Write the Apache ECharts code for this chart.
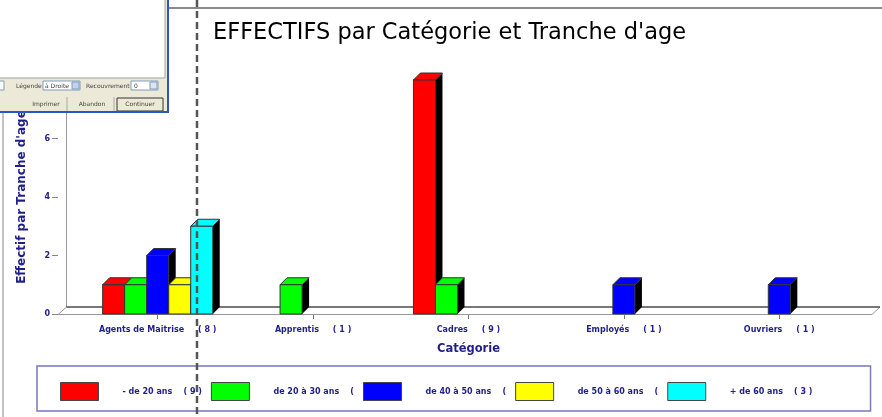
<!DOCTYPE html>
<html>
<head>
<meta charset="utf-8">
<script src="https://cdn.jsdelivr.net/npm/echarts@6/dist/echarts.min.js"></script>
<style>
html, body { margin: 0; padding: 0; background: #fff; }
#chart { width: 882px; height: 417px; }
</style>
</head>
<body>
<div id="chart"></div>
<script>
// data
const categories = ['Agents de Maitrise', 'Apprentis', 'Cadres', 'Employés', 'Ouvriers']
const categoryTotals = [8, 1, 9, 1, 1]
const ageBands = ['- de 20 ans', 'de 20 à 30 ans', 'de 40 à 50 ans', 'de 50 à 60 ans', '+ de 60 ans']
const ageLegendLabels = ['- de 20 ans    ( 9 )', 'de 20 à 30 ans    (', 'de 40 à 50 ans    (', 'de 50 à 60 ans    (', '+ de 60 ans    ( 3 )']
const ageColors = ['#ff0000', '#00ff00', '#0000ff', '#ffff00', '#00ffff']
const under20 = [1, 0, 8, 0, 0]
const from20to30 = [1, 1, 1, 0, 0]
const from40to50 = [2, 0, 0, 1, 1]
const from50to60 = [1, 0, 0, 0, 0]
const over60 = [3, 0, 0, 0, 0]
const yTicks = [0, 2, 4, 6, 8]

const seriesValues = [under20, from20to30, from40to50, from50to60, over60]

const NAVY = '#1f1f87'
const FONT = '"DejaVu Sans", sans-serif'
const DEPTH = 7
const BAR_RATIO = 22 / 155.25

// 3D box: black side, coloured top, coloured front
function makeRenderer(slot, color) {
  return function (params, api) {
    const v = api.value(1)
    if (!v) return null
    const base = api.coord([api.value(0), 0])
    const top = api.coord([api.value(0), v])
    const bw = api.size([1, 0])[0] * BAR_RATIO
    const x = base[0] + (slot - ageBands.length / 2) * bw
    const x2 = x + bw
    const yb = base[1]
    const yt = top[1]
    return {
      type: 'group',
      children: [
        {
          type: 'polygon',
          shape: { points: [[x2, yt], [x2 + DEPTH, yt - DEPTH], [x2 + DEPTH, yb - DEPTH], [x2, yb]] },
          style: { fill: '#000' }
        },
        {
          type: 'polygon',
          shape: { points: [[x, yt], [x + DEPTH, yt - DEPTH], [x2 + DEPTH, yt - DEPTH], [x2, yt]] },
          style: { fill: color, stroke: '#333', lineWidth: 1 }
        },
        {
          type: 'rect',
          shape: { x: x, y: yt, width: bw, height: yb - yt },
          style: { fill: color, stroke: '#333', lineWidth: 1 }
        }
      ]
    }
  }
}

function txt(x, y, text, align) {
  return {
    type: 'text', x: x, y: y, z: 201,
    style: { text: text, fill: '#444', font: '6px ' + FONT, align: align || 'left', verticalAlign: 'middle' }
  }
}

function box(x, y, w, h, fill, stroke) {
  return { type: 'rect', z: 201, shape: { x: x, y: y, width: w, height: h }, style: { fill: fill, stroke: stroke, lineWidth: 1 } }
}

// the print dialog that sits over the top-left corner
const dialog = [
  { type: 'rect', z: 200, shape: { x: 0, y: 0, width: 169, height: 113 }, style: { fill: '#ece9d8' } },
  box(-1, -1, 166, 79, '#fff', '#a0a0a0'),
  { type: 'line', z: 202, shape: { x1: 168, y1: 0, x2: 168, y2: 113 }, style: { stroke: '#2a55c8', lineWidth: 2 } },
  { type: 'line', z: 202, shape: { x1: 0, y1: 112, x2: 169, y2: 112 }, style: { stroke: '#2a55c8', lineWidth: 2 } },
  box(-1, 81, 5, 9, '#fff', '#7f9db9'),
  txt(16, 86, 'Légende'),
  box(43, 81, 37, 9, '#fff', '#7f9db9'),
  txt(45, 86, 'à Droite'),
  box(72, 82, 7, 7, '#c1d2ee', '#7f9db9'),
  txt(86, 86, 'Recouvrement'),
  box(131, 81, 27, 9, '#fff', '#7f9db9'),
  txt(134, 86, '0'),
  box(150, 82, 7, 7, '#dde4f0', '#7f9db9'),
  { type: 'line', z: 201, shape: { x1: 67, y1: 97, x2: 67, y2: 111 }, style: { stroke: '#aaa' } },
  { type: 'line', z: 201, shape: { x1: 114, y1: 97, x2: 114, y2: 111 }, style: { stroke: '#aaa' } },
  box(117, 98, 46, 13, '#ece9d8', '#333'),
  txt(46, 104, 'Imprimer', 'center'),
  txt(92, 104, 'Abandon', 'center'),
  txt(140, 104, 'Continuer', 'center')
]

// frame, back wall and floor of the 3D plot
const frame = [
  { type: 'line', z: 1, shape: { x1: 67, y1: 8, x2: 882, y2: 8 }, style: { stroke: '#8a8a8a', lineWidth: 2 } },
  { type: 'line', z: 1, shape: { x1: 66.5, y1: 8, x2: 66.5, y2: 307 }, style: { stroke: '#999', lineWidth: 1 } },
  { type: 'polygon', z: 1, shape: { points: [[58, 314.5], [66.5, 307], [880, 307], [872, 314.5]] }, style: { fill: '#fff', stroke: '#999', lineWidth: 1 } },
  { type: 'line', z: 1, shape: { x1: 66.5, y1: 307, x2: 880, y2: 307 }, style: { stroke: '#222', lineWidth: 1 } },
  { type: 'line', z: 1, shape: { x1: 3, y1: 112, x2: 3, y2: 417 }, style: { stroke: '#888', lineWidth: 1 } },
  { type: 'line', z: 150, shape: { x1: 197, y1: 0, x2: 197, y2: 417 }, style: { stroke: '#555', lineWidth: 2.5, lineDash: [7, 4] } }
]

const chart = echarts.init(document.getElementById('chart'))
chart.setOption({
  animation: false,
  backgroundColor: '#fff',
  title: {
    text: "EFFECTIFS par Catégorie et Tranche d'age",
    left: 213,
    top: 22,
    padding: 0,
    textStyle: { fontFamily: FONT, fontSize: 22.5, fontWeight: 'normal', color: '#000' }
  },
  grid: { left: 80, right: 25, top: 80, bottom: 103 },
  xAxis: {
    type: 'category',
    data: categories,
    axisLine: { show: false },
    axisTick: { show: true, alignWithLabel: true, length: 5, lineStyle: { color: '#777' } },
    axisLabel: {
      color: NAVY, fontFamily: FONT, fontSize: 8, fontWeight: 'bold', margin: 12,
      formatter: (v, i) => v + '     ( ' + categoryTotals[i] + ' )'
    },
    name: 'Catégorie',
    nameLocation: 'middle',
    nameGap: 29,
    nameTextStyle: { color: NAVY, fontFamily: FONT, fontSize: 11.5, fontWeight: 'bold' }
  },
  yAxis: {
    type: 'value',
    min: yTicks[0],
    max: yTicks[yTicks.length - 1],
    interval: yTicks[1] - yTicks[0],
    offset: 22,
    axisLine: { show: false },
    axisTick: { show: true, length: 6, lineStyle: { color: '#888' } },
    axisLabel: { color: NAVY, fontFamily: FONT, fontSize: 8, fontWeight: 'bold', margin: 8 },
    splitLine: { show: false },
    name: "Effectif par Tranche d'age",
    nameLocation: 'middle',
    nameGap: 30,
    nameTextStyle: { color: NAVY, fontFamily: FONT, fontSize: 12, fontWeight: 'bold' }
  },
  legend: {
    left: 37,
    top: 366,
    orient: 'horizontal',
    padding: [16, 58, 10, 23],
    borderColor: '#7777bb',
    borderWidth: 1.5,
    itemWidth: 38,
    itemHeight: 18,
    itemGap: 9,
    icon: 'rect',
    selectedMode: false,
    itemStyle: { borderColor: '#444', borderWidth: 1 },
    data: ageBands,
    formatter: name => '{t|' + ageLegendLabels[ageBands.indexOf(name)] + '}',
    textStyle: {
      rich: {
        t: { color: NAVY, fontFamily: FONT, fontSize: 8, fontWeight: 'bold', padding: [0, 0, 0, 19] }
      }
    }
  },
  graphic: frame.concat(dialog),
  series: ageBands.map((name, i) => ({
    name: name,
    type: 'custom',
    renderItem: makeRenderer(i, ageColors[i]),
    itemStyle: { color: ageColors[i] },
    encode: { x: 0, y: 1 },
    data: seriesValues[i].map((v, j) => [j, v]),
    clip: false,
    z: 3
  }))
})
</script>
</body>
</html>
